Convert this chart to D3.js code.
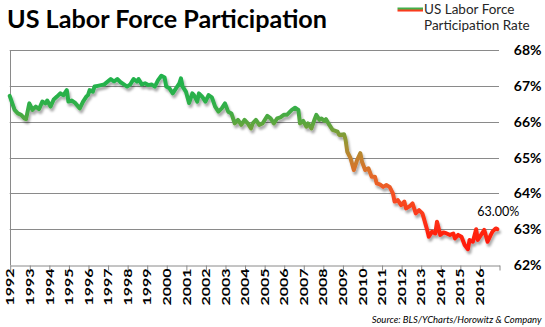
<!DOCTYPE html>
<html>
<head>
<meta charset="utf-8">
<script src="https://cdn.jsdelivr.net/npm/d3@7/dist/d3.min.js"></script>
<style>
  html, body { margin: 0; padding: 0; background: #ffffff; }
  svg { display: block; }
  text { font-family: Lato, "Open Sans", "DejaVu Sans", sans-serif; }
</style>
</head>
<body>
<div id="chart"></div>
<script>
// US labor force participation rate, monthly readings (percent)
const months = [
  "1992-01","1992-04","1992-06","1992-08","1992-10","1992-11","1993-01","1993-03","1993-05","1993-07",
  "1993-09","1993-11","1993-12","1994-02","1994-04","1994-06","1994-08","1994-10","1994-12","1995-01",
  "1995-03","1995-05","1995-08","1995-10","1995-12","1996-01","1996-02","1996-04","1996-05","1996-07",
  "1996-09","1996-11","1997-03","1997-05","1997-07","1997-09","1997-11","1998-01","1998-03","1998-05",
  "1998-07","1998-08","1998-10","1998-12","1999-02","1999-04","1999-06","1999-08","1999-10","1999-12",
  "2000-01","2000-03","2000-05","2000-07","2000-09","2000-10","2000-11","2001-01","2001-03","2001-05",
  "2001-06","2001-08","2001-09","2001-11","2002-01","2002-03","2002-05","2002-07","2002-09","2002-11",
  "2003-01","2003-03","2003-05","2003-07","2003-09","2003-11","2004-01","2004-03","2004-05","2004-06",
  "2004-08","2004-10","2004-12","2005-03","2005-05","2005-07","2005-09","2005-11","2006-01","2006-03",
  "2006-06","2006-08","2006-10","2006-11","2007-01","2007-03","2007-04","2007-06","2007-08","2007-09",
  "2007-11","2007-12","2008-02","2008-03","2008-05","2008-07","2008-10","2008-11","2009-02","2009-03",
  "2009-04","2009-06","2009-08","2009-10","2009-12","2010-01","2010-03","2010-05","2010-07","2010-09",
  "2010-10","2010-12","2011-02","2011-04","2011-06","2011-08","2011-09","2011-11","2012-01","2012-03",
  "2012-04","2012-06","2012-08","2012-10","2012-12","2013-02","2013-03","2013-05","2013-06","2013-08",
  "2013-10","2013-11","2014-01","2014-03","2014-05","2014-07","2014-09","2014-10","2014-12","2015-02",
  "2015-04","2015-06","2015-07","2015-09","2015-11","2015-12","2016-02","2016-04","2016-06","2016-08",
  "2016-09","2016-11","2016-12"
];
const rates = [
  66.72,66.33,66.23,66.19,66.09,66.07,66.51,66.33,66.42,66.35,
  66.56,66.51,66.59,66.42,66.62,66.70,66.79,66.74,66.88,66.56,
  66.59,66.53,66.37,66.56,66.70,66.74,66.88,66.84,66.98,67.00,
  67.02,67.04,67.19,67.12,67.19,67.10,67.04,66.98,67.04,67.19,
  67.12,67.19,67.04,67.07,67.02,67.04,66.98,67.16,67.28,67.23,
  66.98,66.93,66.79,66.93,67.07,67.21,66.98,66.84,66.52,66.79,
  66.74,66.56,66.79,66.70,66.56,66.74,66.68,66.42,66.28,66.37,
  66.51,66.28,66.23,65.95,66.05,65.91,66.05,65.95,65.81,65.95,
  66.05,65.91,65.95,66.16,66.09,65.95,66.09,66.12,66.19,66.19,
  66.33,66.39,66.33,65.95,66.02,65.86,65.95,65.81,66.07,66.19,
  66.05,66.09,66.02,66.07,65.91,65.77,65.72,65.63,65.65,65.49,
  65.16,64.98,64.65,64.93,65.12,64.88,64.65,64.70,64.46,64.46,
  64.28,64.25,64.18,64.23,64.18,64.00,63.77,63.81,63.67,63.77,
  63.58,63.63,63.72,63.44,63.53,63.44,63.30,62.98,62.79,62.93,
  62.88,63.21,62.84,62.91,62.88,62.84,62.88,62.74,62.84,62.79,
  62.56,62.44,62.70,62.65,63.00,62.70,62.84,62.98,62.65,62.84,
  62.93,63.02,63.00
];
const yearTicks = [1992,1993,1994,1995,1996,1997,1998,1999,2000,2001,2002,2003,2004,
                   2005,2006,2007,2008,2009,2010,2011,2012,2013,2014,2015,2016,2017];
const percentTicks = [62,63,64,65,66,67,68];
const lastLabel = "63.00%";

// line colour follows the value: green when high, red when low
const colorStops = [
  [67.3,"#20b24c"],[66.5,"#2eb04a"],[66.0,"#58a73f"],[65.5,"#909834"],
  [65.0,"#c2822e"],[64.5,"#e36a2a"],[64.0,"#f35224"],[63.4,"#fc391a"],
  [62.9,"#ff2410"],[62.4,"#ff1808"]
];

const W = 545, H = 327;
const parseMonth = d3.timeParse("%Y-%m");
const series = months.map((m, i) => ({ date: parseMonth(m), value: rates[i] }));

const x = d3.scaleTime()
  .domain([new Date(1992, 0, 1), new Date(2017, 0, 1)])
  .range([9.7, 499]);
const y = d3.scaleLinear().domain([62, 68]).range([265, 50]);

const svg = d3.select("#chart").append("svg")
  .attr("width", W).attr("height", H);

const defs = svg.append("defs");
const yTop = y(colorStops[0][0]), yBot = y(colorStops[colorStops.length - 1][0]);
const grad = defs.append("linearGradient")
  .attr("id", "rateGrad").attr("gradientUnits", "userSpaceOnUse")
  .attr("x1", 0).attr("x2", 0).attr("y1", yTop).attr("y2", yBot);
grad.selectAll("stop").data(colorStops).join("stop")
  .attr("offset", d => (y(d[0]) - yTop) / (yBot - yTop))
  .attr("stop-color", d => d[1]);

const legGrad = defs.append("linearGradient")
  .attr("id", "legGrad").attr("x1", 0).attr("x2", 0).attr("y1", 0).attr("y2", 1);
[[0,"#3cb04a"],[0.42,"#4aae46"],[0.58,"#f24a24"],[1,"#ff2a10"]].forEach(s =>
  legGrad.append("stop").attr("offset", s[0]).attr("stop-color", s[1]));

const shadow = defs.append("filter").attr("id", "shadow")
  .attr("x", "-5%").attr("y", "-20%").attr("width", "110%").attr("height", "140%");
shadow.append("feDropShadow")
  .attr("dx", 1.5).attr("dy", 3).attr("stdDeviation", 1.3)
  .attr("flood-color", "#000").attr("flood-opacity", 0.33);

// horizontal gridlines
svg.append("g").selectAll("line").data(percentTicks.filter(d => d > 62)).join("line")
  .attr("x1", x.range()[0]).attr("x2", x.range()[1])
  .attr("y1", d => Math.round(y(d)) + 0.5).attr("y2", d => Math.round(y(d)) + 0.5)
  .attr("stroke", "#8a8a8a").attr("stroke-width", 1);

// y axis line
svg.append("line")
  .attr("x1", 10.5).attr("x2", 10.5)
  .attr("y1", Math.round(y(68)) + 0.5).attr("y2", Math.round(y(62)) + 0.5)
  .attr("stroke", "#8a8a8a");

// x axis with yearly ticks
const xAxis = d3.axisBottom(x)
  .tickValues(yearTicks.map(t => new Date(t, 0, 1)))
  .tickSize(5).tickSizeOuter(0).tickFormat("");
const gx = svg.append("g")
  .attr("transform", `translate(0.5,${Math.round(y(62)) + 0.5})`)
  .call(xAxis);
gx.select(".domain").attr("stroke", "#8a8a8a");
gx.selectAll(".tick line").attr("stroke", "#8a8a8a");

// rotated year labels
svg.append("g").selectAll("text").data(yearTicks.slice(0, -1)).join("text")
  .attr("transform", d => `translate(${x(new Date(d, 0, 1)) + 0.5},268.5) rotate(-90)`)
  .attr("text-anchor", "end")
  .attr("dy", "0.36em")
  .attr("font-size", 11.5).attr("font-weight", "bold").attr("fill", "#000")
  .attr("textLength", 37).attr("lengthAdjust", "spacingAndGlyphs")
  .text(d => d);

// percent labels on the right
svg.append("g").selectAll("text").data(percentTicks).join("text")
  .attr("x", 541.5).attr("y", d => y(d))
  .attr("dy", "0.36em").attr("text-anchor", "end")
  .attr("font-size", 14).attr("font-weight", "bold").attr("fill", "#000")
  .text(d => d + "%");

// the participation rate line
const line = d3.line().x(d => x(d.date)).y(d => y(d.value)).curve(d3.curveLinear);
svg.append("path").datum(series)
  .attr("d", line)
  .attr("fill", "none")
  .attr("stroke", "url(#rateGrad)")
  .attr("stroke-width", 4)
  .attr("stroke-linejoin", "round").attr("stroke-linecap", "round")
  .attr("filter", "url(#shadow)");

// value label for the latest reading
const last = series[series.length - 1];
svg.append("text")
  .attr("x", x(last.date) - 20).attr("y", y(last.value) - 13)
  .attr("text-anchor", "start")
  .attr("font-size", 12.5).attr("fill", "#000")
  .text(lastLabel);

// title
svg.append("text")
  .attr("x", 7).attr("y", 28)
  .attr("font-size", 24).attr("font-weight", "bold").attr("fill", "#000")
  .attr("textLength", 320).attr("lengthAdjust", "spacingAndGlyphs")
  .text("US Labor Force Participation");

// legend
svg.append("rect")
  .attr("x", 397.5).attr("y", 7.5).attr("width", 25.5).attr("height", 4)
  .attr("fill", "url(#legGrad)");
const legText = svg.append("text")
  .attr("font-size", 13.5).attr("fill", "#262626");
legText.append("tspan").attr("x", 424).attr("y", 14).text("US Labor Force");
legText.append("tspan").attr("x", 424).attr("y", 29.5).text("Participation Rate");

// source note
svg.append("text")
  .attr("x", 541.5).attr("y", 323)
  .attr("text-anchor", "end")
  .attr("font-size", 9.5).attr("font-style", "italic").attr("fill", "#000")
  .text("Source: BLS/YCharts/Horowitz & Company");
</script>
</body>
</html>
